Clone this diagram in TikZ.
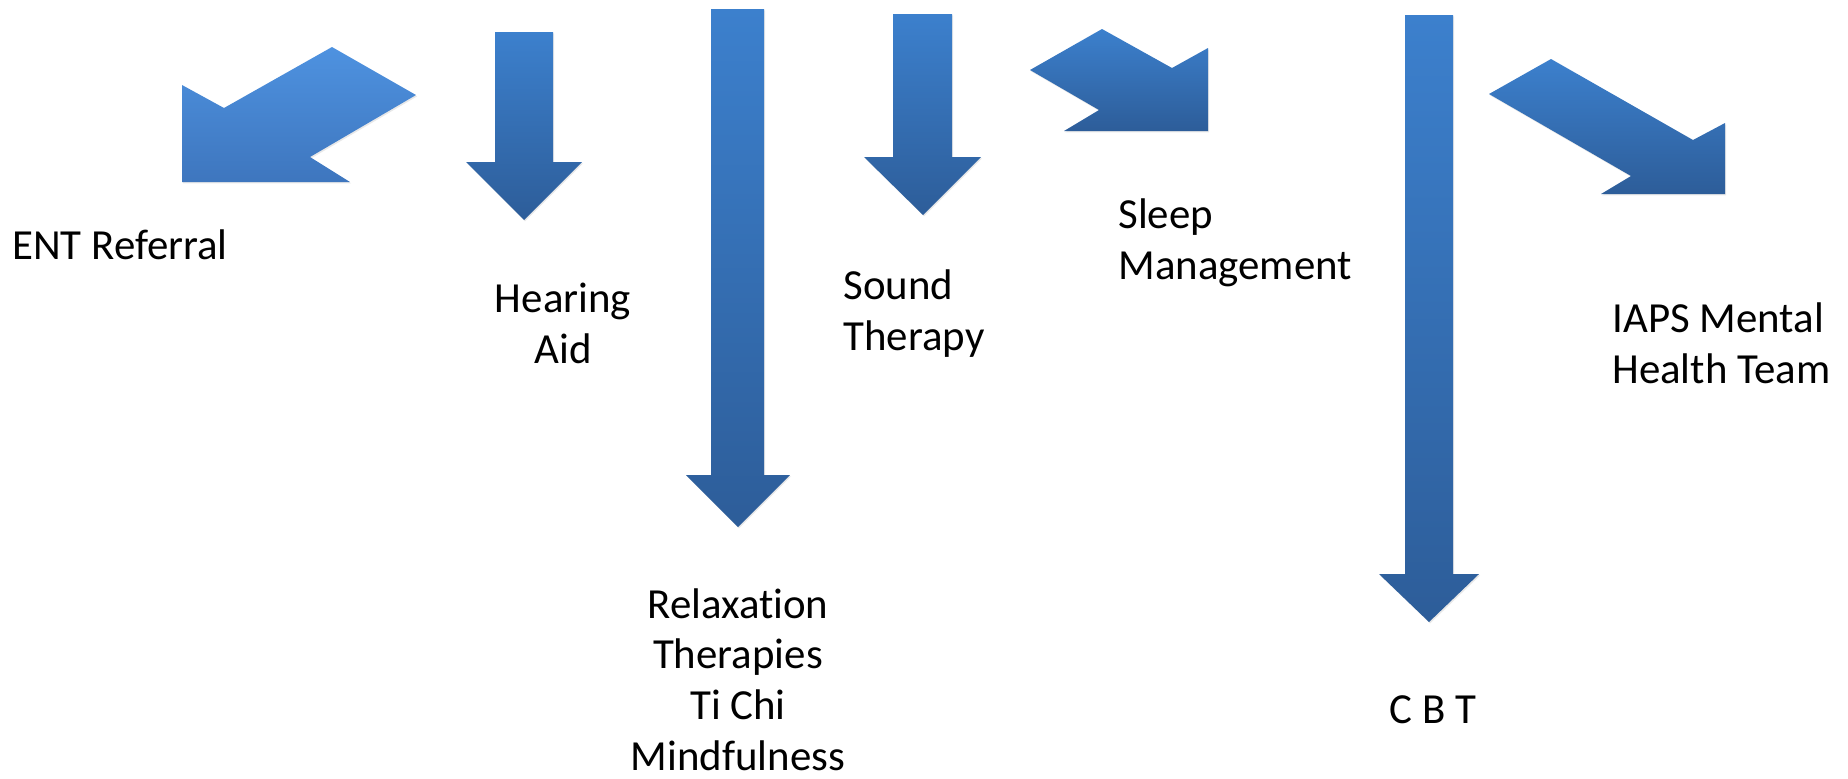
\documentclass[tikz,border=0pt]{standalone}
\usepackage{fontspec}
\setmainfont{Carlito}[Ligatures=NoCommon]
\usetikzlibrary{positioning, shadows}
\definecolor{arrowtop}{RGB}{60,128,205}
\definecolor{arrowbot}{RGB}{45,93,153}
\definecolor{slanttop}{RGB}{78,146,224}
\definecolor{slantbot}{RGB}{62,118,190}

\begin{document}
\begin{tikzpicture}[
    x=0.02cm, y=-0.02cm,
    blockarrow/.style={top color=arrowtop, bottom color=arrowbot, draw=none,
        drop shadow={opacity=0.18, shadow xshift=0.6pt, shadow yshift=-0.8pt}},
    slantarrow/.style={blockarrow, top color=slanttop, bottom color=slantbot},
    pathway/.style={font=\fontsize{24.4}{28.8}\selectfont, inner sep=0pt}
]
\useasboundingbox (0,0) rectangle (1848,778);

% Arrows
\path[slantarrow] (182,182) -- (182,85) -- (224,108) -- (332,47) -- (416,95) -- (310,157) -- (350,182) -- cycle;
\path[blockarrow] (495,32) -- (553,32) -- (553,162) -- (582,162) -- (524,220) -- (466,162) -- (495,162) -- cycle;
\path[blockarrow] (711,9) -- (764,9) -- (764,475) -- (790,475) -- (738,527) -- (686,475) -- (711,475) -- cycle;
\path[blockarrow] (893,14) -- (952,14) -- (952,157) -- (981,157) -- (923,215) -- (864,157) -- (893,157) -- cycle;
\path[blockarrow] (1030,70) -- (1102,29) -- (1172,68) -- (1208,48) -- (1208,131) -- (1064,131) -- (1099,110) -- cycle;
\path[blockarrow] (1405,15) -- (1453,15) -- (1453,574) -- (1479,574) -- (1429,622) -- (1379,574) -- (1405,574) -- cycle;
\path[blockarrow] (1489,94) -- (1551,59) -- (1693,140) -- (1725,123) -- (1725,194) -- (1601,194) -- (1631,176) -- cycle;

% Labels (base = last line)
\node[pathway, anchor=base west] (ent) at (12,259) {ENT Referral};
\node[pathway, anchor=base, align=center] (aid) at (563,363) {Hearing\\Aid};
\node[pathway, anchor=base, align=center] (relax) at (738,770) {Relaxation\\Therapies\\Ti Chi\\Mindfulness};
\node[pathway, anchor=base west, align=left] (sound) at (843,350) {Sound\\Therapy};
\node[pathway, anchor=base west, align=left] (sleep) at (1118,279) {Sleep\\Management};
\node[pathway, anchor=base] (cbt) at (1433,723) {C B T};
\node[pathway, anchor=base west, align=left] (iaps) at (1612,383) {IAPS Mental\\Health Team};

\end{tikzpicture}
\end{document}
